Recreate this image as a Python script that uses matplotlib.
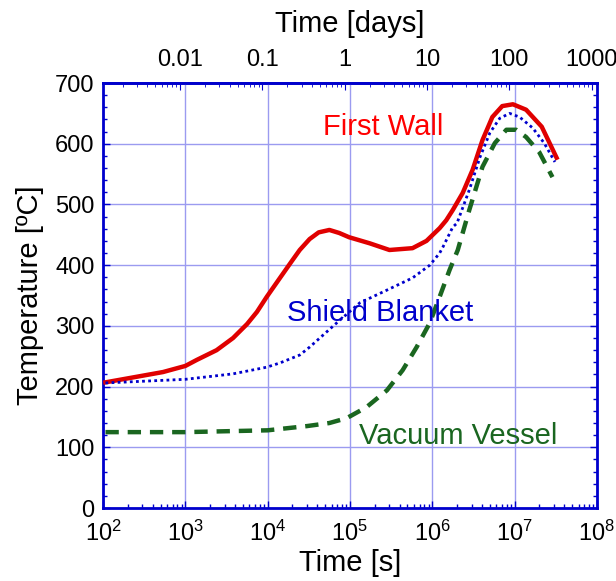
import numpy as np
import matplotlib.pyplot as plt
from matplotlib.ticker import LogLocator, MultipleLocator, NullFormatter, FixedLocator

plt.rcParams['font.family'] = ['Liberation Sans', 'DejaVu Sans']

# log10(time [s]) and temperature [C]
fw_logt = [2.03, 2.36, 2.73, 3.0, 3.14, 3.38, 3.58, 3.75, 3.87, 3.99, 4.15, 4.29,
           4.39, 4.51, 4.62, 4.75, 4.87, 4.99, 5.24, 5.48, 5.76, 5.93, 6.09, 6.17,
           6.25, 6.37, 6.49, 6.61, 6.73, 6.85, 6.98, 7.14, 7.33, 7.51]
fw_temp = [207, 215, 224, 234, 244, 260, 280, 303, 323, 348, 379, 406,
           425, 443, 454, 458, 453, 446, 436, 425, 428, 440, 461, 474,
           491, 519, 557, 606, 644, 662, 665, 656, 628, 577]

sb_logt = [2.03, 3.0, 3.58, 3.99, 4.15, 4.39, 4.51, 4.84, 5.12, 5.45, 5.76, 5.97,
           6.09, 6.13, 6.25, 6.30, 6.45, 6.58, 6.70, 6.82, 6.94, 7.06, 7.22,
           7.36, 7.49]
sb_temp = [206, 212, 221, 232, 239, 252, 265, 305, 338, 359, 379, 400,
           420, 430, 463, 469, 524, 578, 618, 642, 650, 644, 626,
           601, 570]

vv_logt = [2.03, 3.0, 4.0, 4.48, 4.75, 4.96, 5.20, 5.45, 5.64, 5.81, 5.97, 6.09,
           6.21, 6.31, 6.45, 6.61, 6.76, 6.90, 7.02, 7.14, 7.30, 7.46]
vv_temp = [125, 125, 128, 135, 140, 148, 166, 194, 227, 265, 305, 348,
           392, 425, 491, 562, 601, 623, 623, 611, 586, 545]

day_ticks = [0.01, 0.1, 1, 10, 100, 1000]
day_labels = ['0.01', '0.1', '1', '10', '100', '1000']

spine_col = '#0000cc'
grid_col = '#9b9bf0'

fig = plt.figure(figsize=(6.16, 5.81), dpi=100)
ax = fig.add_axes([0.1672, 0.1256, 0.8018, 0.7315])

ax.plot(10 ** np.array(fw_logt), fw_temp, color='#e00000', lw=3.2, zorder=3)
ax.plot(10 ** np.array(sb_logt), sb_temp, color='#0000cc', lw=2, linestyle=(0, (1, 1.2)), zorder=3)
ax.plot(10 ** np.array(vv_logt), vv_temp, color='#1a6620', lw=3.2, linestyle=(0, (3, 2)), zorder=3)

ax.set_xscale('log')
ax.set_xlim(1e2, 1e8)
ax.set_ylim(0, 700)
ax.yaxis.set_major_locator(MultipleLocator(100))
ax.yaxis.set_minor_locator(MultipleLocator(20))
ax.xaxis.set_major_locator(LogLocator(base=10, numticks=10))
ax.xaxis.set_minor_locator(LogLocator(base=10, subs=np.arange(2, 10), numticks=20))
ax.xaxis.set_minor_formatter(NullFormatter())
ax.grid(True, which='major', color=grid_col, lw=1)

for s in ax.spines.values():
    s.set_color(spine_col)
    s.set_linewidth(2)

ax.tick_params(which='both', direction='in', color=spine_col, labelsize=17,
               right=True, top=False)
ax.tick_params(which='major', length=5, width=1)
ax.tick_params(which='minor', length=3, width=1)
ax.tick_params(axis='y', pad=6)
ax.tick_params(axis='x', pad=9)

ax.set_xlabel('Time [s]', fontsize=21, labelpad=2)
ax.set_ylabel('Temperature [ºC]', fontsize=21, labelpad=8)

# top axis in days
top = ax.secondary_xaxis('top', functions=(lambda t: t / 86400.0, lambda d: d * 86400.0))
top.xaxis.set_major_locator(FixedLocator(day_ticks))
top.set_xticklabels(day_labels)
top.xaxis.set_minor_locator(LogLocator(base=10, subs=np.arange(2, 10), numticks=20))
top.xaxis.set_minor_formatter(NullFormatter())
top.tick_params(which='both', direction='in', color=spine_col, labelsize=17, pad=9)
top.tick_params(which='major', length=5)
top.tick_params(which='minor', length=3)
top.spines['top'].set_color(spine_col)
top.spines['top'].set_linewidth(2)
top.set_xlabel('Time [days]', fontsize=21, labelpad=12)

ax.text(10 ** 5.40, 628, 'First Wall', color='#ff0000', fontsize=21, ha='center', va='center')
ax.text(10 ** 5.37, 321, 'Shield Blanket', color='#0000cc', fontsize=21, ha='center', va='center')
ax.text(10 ** 6.31, 119, 'Vacuum Vessel', color='#1a6620', fontsize=21, ha='center', va='center')

plt.savefig('out.png', dpi=100)
